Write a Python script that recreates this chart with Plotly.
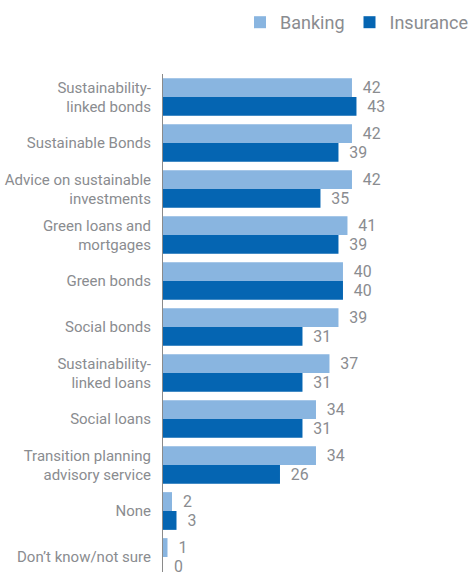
import plotly.graph_objects as go

categories = [
    "Sustainability-<br>linked bonds",
    "Sustainable Bonds",
    "Advice on sustainable<br>investments",
    "Green loans and<br>mortgages",
    "Green bonds",
    "Social bonds",
    "Sustainability-<br>linked loans",
    "Social loans",
    "Transition planning<br>advisory service",
    "None",
    "Don’t know/not sure",
]
banking = [42, 42, 42, 41, 40, 39, 37, 34, 34, 2, 1]
insurance = [43, 39, 35, 39, 40, 31, 31, 31, 26, 3, 0]

series_names = ["Banking", "Insurance"]
colors = ["#89b5e0", "#0565b2"]
gray = "#8a8c90"
font_family = "Roboto, Noto Sans, sans-serif"

fig = go.Figure()
for name, vals, col in zip(series_names, [banking, insurance], colors):
    fig.add_trace(go.Bar(
        y=categories, x=vals, name=name, orientation="h",
        marker=dict(color=col, line=dict(width=0)),
        text=vals, texttemplate="  %{x}", textposition="outside",
        textfont=dict(color=gray, size=16, family=font_family),
        cliponaxis=False,
    ))

fig.update_layout(
    width=473, height=572,
    margin=dict(l=163, r=0, t=74, b=0),
    barmode="group", bargap=0.18, bargroupgap=0,
    plot_bgcolor="white", paper_bgcolor="white",
    font=dict(family=font_family, color=gray, size=15),
    showlegend=True,
    legend=dict(orientation="h", x=1, xanchor="right", xref="container",
                y=1 - 4 / 572, yref="container", yanchor="top",
                font=dict(size=18, color=gray), traceorder="normal",
                itemwidth=30),
    xaxis=dict(range=[0, 68.9], visible=False, showgrid=False, zeroline=False),
    yaxis=dict(type="category", range=[10.326, -0.5], showline=True,
               linecolor="#8a8a8a", linewidth=1, showgrid=False,
               ticks="", ticklabelstandoff=8,
               tickfont=dict(size=15, color=gray, family=font_family)),
)

fig.write_html("out.html")
